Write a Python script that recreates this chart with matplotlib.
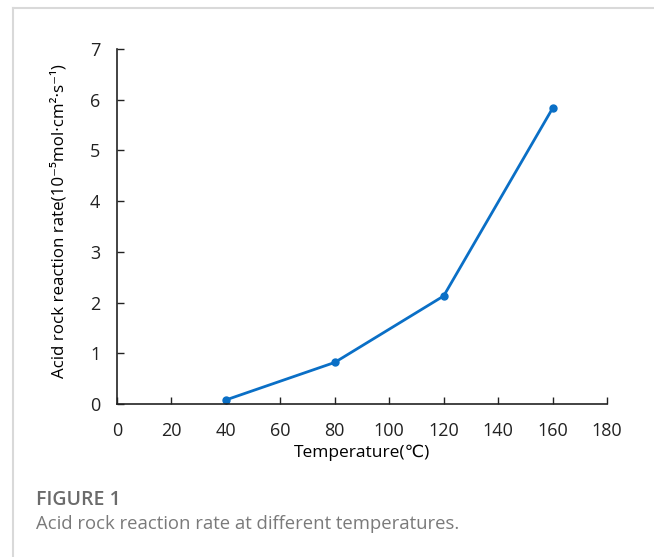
import matplotlib.pyplot as plt
from matplotlib.lines import Line2D

temperature = [40, 80, 120, 160]
rate = [0.08, 0.82, 2.13, 5.83]
x_ticks = list(range(0, 181, 20))
y_ticks = list(range(0, 8))

plt.rcParams['font.family'] = ['Open Sans', 'DejaVu Sans']

fig = plt.figure(figsize=(6.54, 5.57), dpi=100)
ax = fig.add_axes([117/654, 1-404/557, 490/654, 355/557])

ax.plot(temperature, rate, '-o', color='#0a6fc6', lw=2, ms=5)

ax.set_xlim(0, 180)
ax.set_ylim(0, 7)
ax.set_xticks(x_ticks)
ax.set_yticks(y_ticks)
ax.tick_params(direction='in', length=5, width=1, labelsize=13, colors='#222222')
ax.tick_params(axis='x', pad=13)
ax.tick_params(axis='y', pad=12)
for s in ['top', 'right']:
    ax.spines[s].set_visible(False)
for s in ['left', 'bottom']:
    ax.spines[s].set_color('#222222')
    ax.spines[s].set_linewidth(1.2)

ax.set_xlabel('Temperature(\u2103)', fontsize=12.5, labelpad=3)
ax.set_ylabel('Acid rock reaction rate(10\u207b\u2075mol\u00b7cm\u00b2\u00b7s\u207b\u00b9)', fontsize=12.2)
ax.yaxis.set_label_coords(-0.1, 0.515)

# рамка и подпись
fig.add_artist(Line2D([13/654, 1], [1-8/557, 1-8/557], color='#d9d9d9', lw=1.5))
fig.add_artist(Line2D([13/654, 13/654], [0, 1-8/557], color='#d9d9d9', lw=1.5))
fig.text(36/654, 1-500/557, 'FIGURE 1', fontsize=14, color='#6b6b6b', weight='semibold', va='center')
fig.text(36/654, 1-524/557, 'Acid rock reaction rate at different temperatures.', fontsize=13.3,
         color='#7a7a7a', va='center')

fig.savefig('out.png', dpi=100)
